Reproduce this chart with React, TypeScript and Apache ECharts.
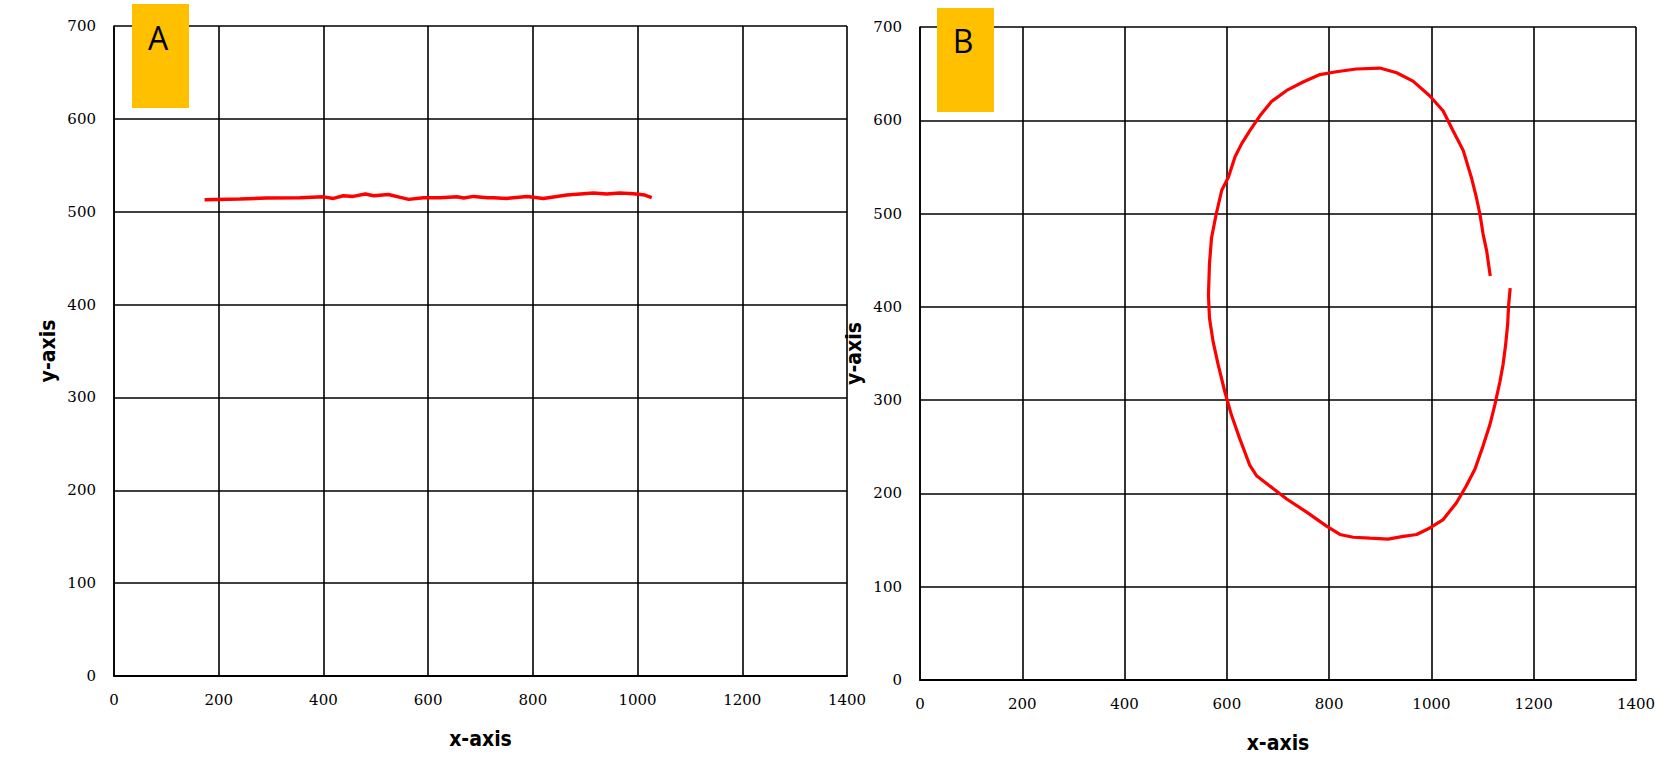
import React, { useEffect, useRef } from "react";
import * as echarts from "echarts";

// Panel A: nearly horizontal trace
const traceAX = [173, 240, 291, 355, 400, 419, 438, 457, 480, 496, 524, 547, 563, 591, 623, 655, 668, 687, 713, 725, 750, 789, 820, 865, 916, 941, 966, 992, 1014, 1027];
const traceAY = [513, 513.6, 514.7, 515.1, 516, 514.3, 517.2, 516.5, 519, 517.2, 518.6, 515.4, 513.3, 515.1, 515.1, 516.1, 514.7, 516.5, 515.1, 515.1, 514.3, 516.5, 514.3, 517.9, 520.1, 519, 520.1, 519.4, 517.9, 515.1];

// Panel B: open loop trace
const traceBX = [1154, 1151, 1149, 1145, 1140, 1134, 1124, 1114, 1101, 1085, 1068, 1049, 1023, 997, 971, 945, 915, 880, 847, 821, 795, 756, 717, 691, 658, 645, 625, 609, 596, 583, 573, 566, 564, 566, 570, 579, 590, 603, 616, 629, 645, 665, 687, 717, 749, 782, 814, 853, 899, 932, 964, 997, 1023, 1042, 1062, 1078, 1088, 1095, 1101, 1108, 1115];
const traceBY = [420, 402, 381, 359, 338, 320, 295, 273, 251, 226, 208, 190, 172, 163, 156, 154, 151, 152, 153, 156, 165, 180, 194, 205, 219, 230, 259, 284, 309, 338, 363, 388, 413, 446, 474, 499, 525, 539, 561, 575, 589, 605, 620, 632, 641, 649, 652, 655, 656, 651, 642, 626, 610, 589, 568, 539, 517, 499, 478, 460, 433];

const xTicks = { min: 0, max: 1400, interval: 200 };
const yTicks = { min: 0, max: 700, interval: 100 };
const panelLabels = ["A", "B"];

const pairs = (xs: number[], ys: number[]) => xs.map((x, i) => [x, ys[i]]);

export default function App() {
  const ref = useRef<HTMLDivElement>(null);
  useEffect(() => {
    if (!ref.current) return;
    const chart = echarts.init(ref.current, null, { renderer: "svg" });
    const labelFont = {
      fontFamily: "'DejaVu Serif', serif",
      fontSize: 15,
      color: "#000",
      formatter: (v: number) => String(v),
    };
    const nameFont = { fontFamily: "'DejaVu Sans Condensed', 'DejaVu Sans', sans-serif", fontSize: 21, fontWeight: "bold" as const, color: "#000" };
    const grids = [
      { left: 114, top: 26, width: 733, height: 650 },
      { left: 920, top: 27, width: 716, height: 653 },
    ];
    const gridLine = { show: true, lineStyle: { color: "#000", width: 1.6 } };
    const mkX = (gi: number) => ({
      type: "value" as const,
      gridIndex: gi,
      ...xTicks,
      name: "x-axis",
      nameLocation: "middle" as const,
      nameGap: 52,
      nameTextStyle: nameFont,
      axisLine: { show: true, lineStyle: { color: "#000", width: 2.2 } },
      axisTick: { show: false },
      axisLabel: { ...labelFont, margin: 16 },
      splitLine: gridLine,
    });
    const mkY = (gi: number) => ({
      type: "value" as const,
      gridIndex: gi,
      ...yTicks,
      name: "y-axis",
      nameLocation: "middle" as const,
      nameGap: 56,
      nameTextStyle: nameFont,
      axisLine: { show: true, lineStyle: { color: "#000", width: 1.6 } },
      axisTick: { show: false },
      axisLabel: { ...labelFont, margin: 18 },
      splitLine: gridLine,
    });
    const boxes = [
      { x: 132, y: 4, cx: 158, cy: 37 },
      { x: 937, y: 8, cx: 963, cy: 40 },
    ];
    chart.setOption({
      animation: false,
      backgroundColor: "#fff",
      grid: grids,
      xAxis: [mkX(0), mkX(1)],
      yAxis: [mkY(0), mkY(1)],
      series: [
        {
          type: "line",
          xAxisIndex: 0,
          yAxisIndex: 0,
          data: pairs(traceAX, traceAY),
          showSymbol: false,
          lineStyle: { color: "#ff0000", width: 3.5 },
          z: 5,
        },
        {
          type: "line",
          xAxisIndex: 1,
          yAxisIndex: 1,
          data: pairs(traceBX, traceBY),
          showSymbol: false,
          lineStyle: { color: "#ff0000", width: 3.2 },
          z: 5,
        },
      ],
      graphic: boxes.flatMap((b, i) => [
        { type: "rect", left: b.x, top: b.y, shape: { width: 57, height: 104 }, style: { fill: "#ffc000" }, z: 100 },
        {
          type: "text",
          x: b.cx,
          y: b.cy,
          style: { text: panelLabels[i], fill: "#000", font: "32px 'Open Sans', 'Liberation Sans', sans-serif", textAlign: "center", textVerticalAlign: "middle" },
          z: 101,
        },
      ]),
    });
    return () => chart.dispose();
  }, []);
  return <div ref={ref} style={{ position: "fixed", left: 0, top: 0, width: 1678, height: 779 }} />;
}
